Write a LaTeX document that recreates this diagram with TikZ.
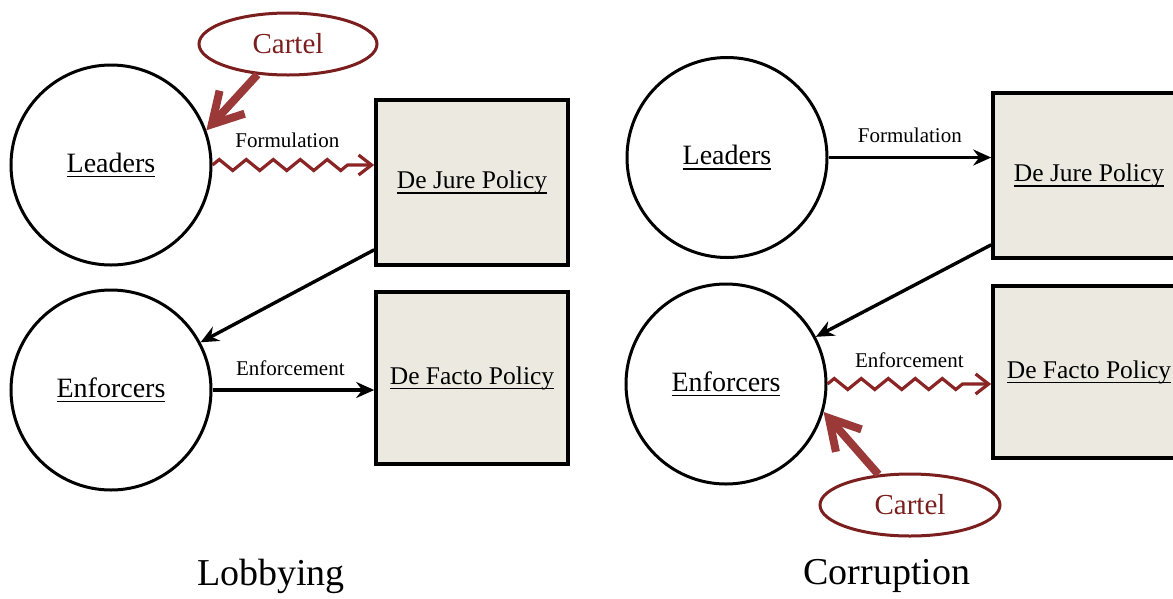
\documentclass[tikz,border=0pt]{standalone}
\usepackage{fontspec}
\setmainfont{Liberation Serif}
\newsavebox{\ulbox}
\newcommand{\ulx}[1]{\sbox{\ulbox}{#1}\makebox[0pt][l]{\rule[-5pt]{\wd\ulbox}{1.5pt}}\usebox{\ulbox}}
\usetikzlibrary{arrows.meta,decorations.pathmorphing,calc,shapes.geometric}
\definecolor{boxfill}{HTML}{ECE9E0}
\definecolor{cartred}{HTML}{7B1E1E}
\definecolor{cartarrow}{HTML}{9B3838}
\definecolor{zzred}{HTML}{8B2525}
\tikzset{
  agent/.style={circle,draw=black,line width=3pt,minimum size=200pt,inner sep=0pt,font=\fontsize{28}{32}\selectfont},
  policy/.style={rectangle,draw=black,line width=3.6pt,fill=boxfill,minimum width=192pt,inner sep=0pt,font=\fontsize{25.5}{30}\selectfont},
  cartel/.style={ellipse,draw=cartred,line width=3pt,minimum width=178pt,minimum height=62pt,inner sep=0pt,text=cartred,font=\fontsize{29}{32}\selectfont},
  flowlabel/.style={font=\fontsize{21}{24}\selectfont,inner sep=0pt},
  title/.style={font=\fontsize{38}{42}\selectfont},
  plainarrow/.style={line width=3.4pt,-{Stealth[length=18pt,width=16pt,inset=6pt]}},
  zzarrow/.style={draw=zzred,line width=3.2pt,-{Straight Barb[length=13pt,width=20pt,line width=3.2pt]},
    decorate,decoration={zigzag,amplitude=5.5pt,segment length=27pt,post=lineto,post length=24pt}},
  cartarrowst/.style={draw=cartarrow,line width=8pt,-{Straight Barb[length=30pt,width=34pt,line width=8pt]}}
}
\begin{document}
\begin{tikzpicture}[x=1pt,y=-1pt]
\useasboundingbox (0,0) rectangle (1173,598);
\clip (0,0) rectangle (1173,598);
% Left panel: Lobbying
\node[agent] (leadL) at (111,165) {\ulx{Leaders}};
\node[agent] (enfL) at (111,390) {\ulx{Enforcers}};
\node[policy,minimum height=165pt] (djL) at (472,182.5) {\ulx{De Jure Policy}};
\node[policy,minimum height=172pt] (dfL) at (472,378) {\ulx{De Facto Policy}};
\node[cartel] (cartL) at (288,44) {Cartel};
\coordinate (djLout) at ($(djL.south west)+(0,-17)$);
\draw[zzarrow] (leadL.east) -- (djL.west |- leadL.east)
  node[flowlabel,midway,above=16pt,xshift=-6pt] {Formulation};
\draw[plainarrow] (djLout) -- (enfL);
\draw[plainarrow] (enfL.east) -- (dfL.west |- enfL.east)
  node[flowlabel,midway,above=13pt,xshift=-3pt] {Enforcement};
\draw[cartarrowst] (cartL.225) -- (leadL.20);
\node[title] (lob) at (271,576) {Lobbying};
% Right panel: Corruption
\node[agent] (leadR) at (727,157.5) {\ulx{Leaders}};
\node[agent] (enfR) at (726,384) {\ulx{Enforcers}};
\node[policy,minimum height=165pt] (djR) at (1089,175.5) {\ulx{De Jure Policy}};
\node[policy,minimum height=172pt] (dfR) at (1089,372) {\ulx{De Facto Policy}};
\node[cartel,minimum width=180pt] (cartR) at (910,505) {Cartel};
\coordinate (djRout) at ($(djR.south west)+(0,-15)$);
\draw[plainarrow] (leadR.east) -- (djR.west |- leadR.east)
  node[flowlabel,midway,above=13pt] {Formulation};
\draw[plainarrow] (djRout) -- (enfR);
\draw[zzarrow] (enfR.east) -- (dfR.west |- enfR.east)
  node[flowlabel,midway,above=15pt] {Enforcement};
\draw[cartarrowst] (cartR.136) -- (enfR.-16);
\node[title] (cor) at (887,576) {Corruption};
\end{tikzpicture}
\end{document}
